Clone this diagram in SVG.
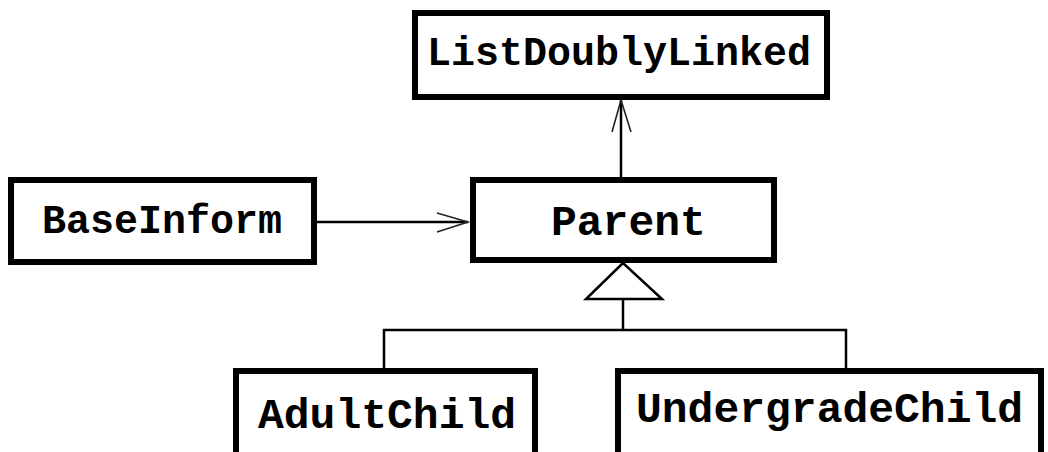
<svg xmlns="http://www.w3.org/2000/svg" width="1048" height="452" viewBox="0 0 1048 452">
<style>
.box{fill:#fff;stroke:#000;stroke-width:6}
.t{font-family:"Liberation Mono","Courier New",monospace;font-weight:bold;fill:#000}
.ln{fill:none;stroke:#000;stroke-width:2.5}
.ah{fill:none;stroke:#222;stroke-width:1.6}
</style>
<rect width="1048" height="452" fill="#fff"/>
<g id="connectors">
<line class="ln" x1="317" y1="222" x2="468" y2="222"/>
<polyline class="ah" points="437,213 468,222 437,232"/>
<line class="ln" x1="621" y1="178" x2="621" y2="100"/>
<polyline class="ah" points="612,132 621,100 631,132"/>
<polyline class="ln" points="623,299 623,330"/>
<polyline class="ln" points="384,368 384,330 846,330 846,368"/>
<polygon points="623,263 586,299 662,299" fill="#fff" stroke="#000" stroke-width="2.5" stroke-linejoin="miter"/>
</g>
<g id="ListDoublyLinked">
<rect class="box" x="415" y="13" width="412" height="84"/>
<text class="t" x="427" y="65" font-size="40">ListDoublyLinked</text>
</g>
<g id="BaseInform">
<rect class="box" x="11" y="180" width="303" height="82"/>
<text class="t" x="42" y="233" font-size="40">BaseInform</text>
</g>
<g id="Parent">
<rect class="box" x="473" y="180" width="301" height="80"/>
<text class="t" x="551" y="235" font-size="43">Parent</text>
</g>
<g id="AdultChild">
<rect class="box" x="236" y="371" width="299" height="90"/>
<text class="t" x="258" y="428" font-size="43">AdultChild</text>
</g>
<g id="UndergradeChild">
<rect class="box" x="618" y="371" width="423" height="90"/>
<text class="t" x="636" y="422" font-size="43">UndergradeChild</text>
</g>
</svg>
